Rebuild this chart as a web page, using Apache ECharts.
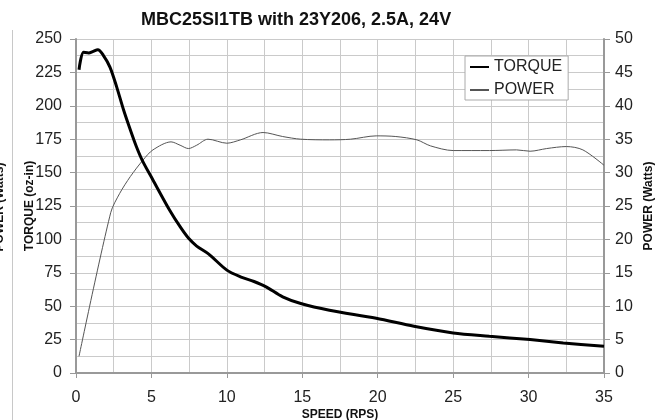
<!DOCTYPE html>
<html>
<head>
<meta charset="utf-8">
<script src="https://cdn.jsdelivr.net/npm/echarts@6/dist/echarts.min.js"></script>
<style>html,body{margin:0;padding:0;background:#fff}#c{width:659px;height:420px}</style>
</head>
<body>
<div id="c"></div>
<script>
var titleText = 'MBC25SI1TB with 23Y206, 2.5A, 24V';
var xName = 'SPEED (RPS)';
var yLeftName = 'TORQUE (oz-in)';
var yRightName = 'POWER (Watts)';
var seriesNames = ['TORQUE', 'POWER'];

var torqueSpeed = [0.2, 0.5, 0.85, 1.1, 1.45, 1.8, 2.25, 2.7, 3.15, 3.6, 4.0, 4.4, 5.1, 6.2, 6.9, 7.45, 8.0, 8.8, 10.0, 10.9, 11.8, 12.6, 13.7, 14.9, 16.8, 19.9, 22.4, 25, 27.4, 30.1, 32.3, 35];
var torqueValues = [227, 240, 239.5, 240.5, 242, 238, 229, 214, 197, 182, 169.5, 159, 144.5, 122, 109.5, 101, 95, 89, 77, 72, 68.5, 64.5, 57, 52, 47, 41, 35, 30, 27.5, 25, 22.5, 20];

var powerSpeed = [0.2, 2.3, 2.9, 3.6, 4.45, 5.1, 6.3, 6.9, 7.45, 8.0, 8.75, 10.0, 10.9, 12.4, 13.7, 14.9, 16.8, 18.2, 19.9, 21.2, 22.6, 23.5, 25, 27.4, 29.2, 30.1, 31.2, 32.5, 33.6, 35];
var powerValues = [2.5, 24, 26.9, 29.4, 31.9, 33.4, 34.6, 34.1, 33.6, 34.1, 35.0, 34.4, 34.9, 36.0, 35.4, 35.0, 34.9, 35.0, 35.5, 35.4, 34.9, 34.0, 33.3, 33.3, 33.4, 33.2, 33.6, 33.9, 33.4, 31.1];

function pairs(xs, ys) { return xs.map(function (x, i) { return [x, ys[i]]; }); }

var FONT = 'Liberation Sans';
var GRID = '#cacaca';
var chart = echarts.init(document.getElementById('c'), null, { renderer: 'canvas' });
chart.setOption({
  animation: false,
  backgroundColor: '#fff',
  textStyle: { fontFamily: FONT },
  title: {
    text: titleText, left: 136, top: 6,
    textStyle: { fontFamily: FONT, fontSize: 18, fontWeight: 'bold', color: '#111' }
  },
  legend: {
    orient: 'vertical', left: 465, top: 56,
    padding: [3, 6, 2, 4], itemGap: 7, itemWidth: 19, itemHeight: 16,
    backgroundColor: '#fff', borderColor: '#aaa', borderWidth: 1, borderRadius: 0,
    itemStyle: { color: 'rgba(0,0,0,0)', borderColor: 'rgba(0,0,0,0)', borderWidth: 0 },
    textStyle: { fontFamily: FONT, fontSize: 16, color: '#222' },
    data: seriesNames
  },
  grid: { left: 76, right: 55, top: 39, bottom: 47, containLabel: false, outerBoundsMode: 'none' },
  xAxis: {
    type: 'value', min: 0, max: 35, interval: 5,
    name: xName, nameLocation: 'middle', nameGap: 36, nameMoveOverlap: false,
    nameTextStyle: { fontFamily: FONT, fontSize: 12, fontWeight: 'bold', color: '#111' },
    axisLine: { show: true, onZero: false, lineStyle: { color: '#999', width: 2 } },
    axisTick: { show: true, length: 5, lineStyle: { color: '#999' } },
    axisLabel: { fontFamily: FONT, fontSize: 16, color: '#222', margin: 17 },
    splitLine: { show: true, lineStyle: { color: GRID, width: 1 } },
    minorTick: { show: true, splitNumber: 2, length: 0, lineStyle: { color: 'rgba(0,0,0,0)' } },
    minorSplitLine: { show: true, lineStyle: { color: GRID, width: 1 } }
  },
  yAxis: [{
    type: 'value', min: 0, max: 250, interval: 25, position: 'left',
    name: yLeftName, nameLocation: 'middle', nameGap: 40, nameMoveOverlap: false,
    nameTextStyle: { fontFamily: FONT, fontSize: 12, fontWeight: 'bold', color: '#111' },
    axisLine: { show: true, lineStyle: { color: '#999', width: 2 } },
    axisTick: { show: true, length: 6, lineStyle: { color: '#999' } },
    axisLabel: { fontFamily: FONT, fontSize: 16, color: '#222', margin: 14 },
    splitLine: { show: true, lineStyle: { color: GRID, width: 1 } },
    minorTick: { show: true, splitNumber: 2, length: 0, lineStyle: { color: 'rgba(0,0,0,0)' } },
    minorSplitLine: { show: true, lineStyle: { color: GRID, width: 1 } }
  }, {
    type: 'value', min: 0, max: 50, interval: 5, position: 'right',
    name: yRightName, nameLocation: 'middle', nameGap: 39, nameMoveOverlap: false,
    nameTextStyle: { fontFamily: FONT, fontSize: 12, fontWeight: 'bold', color: '#111' },
    axisLine: { show: true, lineStyle: { color: '#999', width: 2 } },
    axisTick: { show: true, length: 6, lineStyle: { color: '#999' } },
    axisLabel: { fontFamily: FONT, fontSize: 16, color: '#222', margin: 11 },
    splitLine: { show: false }
  }],
  graphic: [
    { type: 'line', shape: { x1: 12.5, y1: 30, x2: 12.5, y2: 420 }, style: { stroke: '#c8c8c8', lineWidth: 1 }, silent: true },
    { type: 'text', x: 0, y: 207, rotation: Math.PI / 2,
      style: { text: yRightName, font: 'bold 12px "Liberation Sans"', fill: '#111', align: 'center', verticalAlign: 'middle' } }
  ],
  series: [{
    name: seriesNames[0], type: 'line', yAxisIndex: 0, data: pairs(torqueSpeed, torqueValues),
    smooth: 0.3, symbol: 'none', showSymbol: false,
    lineStyle: { color: '#000', width: 3 }, itemStyle: { color: '#000' }, z: 3
  }, {
    name: seriesNames[1], type: 'line', yAxisIndex: 1, data: pairs(powerSpeed, powerValues),
    smooth: 0.3, symbol: 'none', showSymbol: false,
    lineStyle: { color: '#555', width: 1 }, itemStyle: { color: '#555' }, z: 2
  }]
});
</script>
</body>
</html>
